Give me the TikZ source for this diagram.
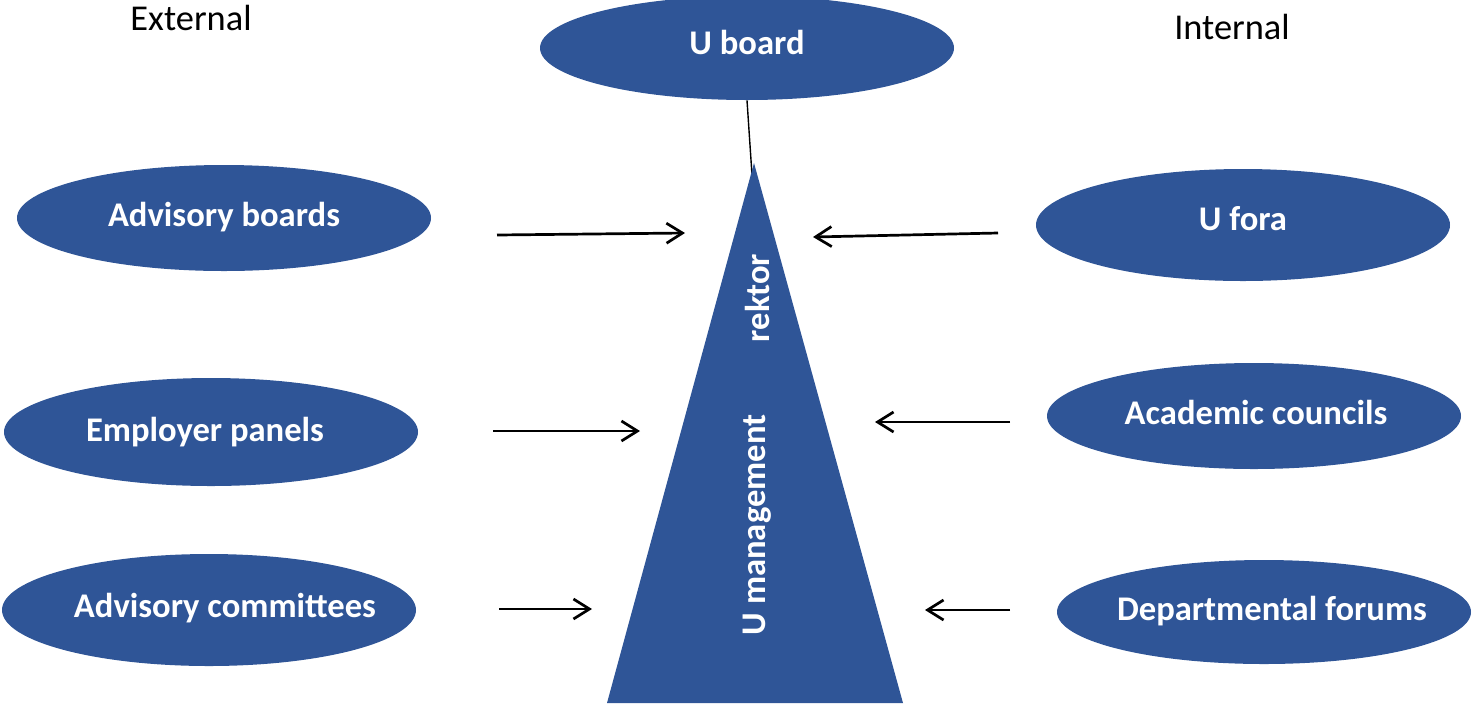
\documentclass[tikz,border=0pt]{standalone}
\usepackage{fontspec}
\setmainfont{Carlito}
\usetikzlibrary{shapes.geometric,arrows.meta}
\definecolor{ublue}{HTML}{2F5597}
\tikzset{
  oval/.style={ellipse, fill=ublue, draw=none, inner sep=0pt, minimum width=207pt, minimum height=53pt},
  lbl/.style={text=white, font=\bfseries\fontsize{17.3}{19}\selectfont, inner sep=0pt},
  head/.style={font=\fontsize{18.2}{21}\selectfont, inner sep=0pt},
  arr/.style={line width=1.35pt, -{Straight Barb[length=8pt,width=10pt,line width=1.35pt]}},
}
\begin{document}
\begin{tikzpicture}[x=0.5pt,y=-0.5pt]
\useasboundingbox (0,0) rectangle (1472,703);
% pyramid
\coordinate (apex) at (754,163);
\coordinate (bl) at (607,703);
\coordinate (br) at (903,703);
\coordinate (lineend) at (752,175);
% ellipses
\node[oval, minimum height=52pt] (ub) at (747,48) {};
\node[oval] (ab) at (224,218) {};
\node[oval, minimum height=56pt] (uf) at (1243,225) {};
\node[oval, minimum height=54pt] (ep) at (211,432) {};
\node[oval] (ac) at (1254,416) {};
\node[oval, minimum height=56pt] (ad) at (209,610) {};
\node[oval, minimum height=52pt] (df) at (1264,612) {};
% connector U board to pyramid apex (behind pyramid)
\draw[line width=0.7pt] (ub.south) -- (lineend);
\fill[ublue] (apex) -- (bl) -- (br) -- cycle;
% labels
\node[lbl] (tub) at (747,42) {U board};
\node[lbl] (tab) at (224,217) {Advisory boards};
\node[lbl] (tuf) at (1243,219) {U fora};
\node[lbl] (tep) at (205,432) {Employer panels};
\node[lbl] (tac) at (1256,412) {Academic councils};
\node[lbl] (tad) at (225,608) {Advisory committees};
\node[lbl] (tdf) at (1272,611) {Departmental forums};
\node[lbl, rotate=90] (rek) at (757,298) {rektor};
\node[lbl, rotate=90] (um) at (757,525) {U management};
\node[head] (ext) at (191,18) {External};
\node[head] (int) at (1232,27) {Internal};
% arrows
\coordinate (a1s) at (497,235); \coordinate (a1e) at (685,233);
\coordinate (a2s) at (998,233); \coordinate (a2e) at (813,237);
\coordinate (a3s) at (493,431); \coordinate (a3e) at (640,431);
\coordinate (a4s) at (1010,422); \coordinate (a4e) at (875,422);
\coordinate (a5s) at (499,609); \coordinate (a5e) at (592,609);
\coordinate (a6s) at (1010,610); \coordinate (a6e) at (925,610);
\draw[arr] (a1s) -- (a1e);
\draw[arr] (a2s) -- (a2e);
\draw[arr] (a3s) -- (a3e);
\draw[arr] (a4s) -- (a4e);
\draw[arr] (a5s) -- (a5e);
\draw[arr] (a6s) -- (a6e);
\end{tikzpicture}
\end{document}
